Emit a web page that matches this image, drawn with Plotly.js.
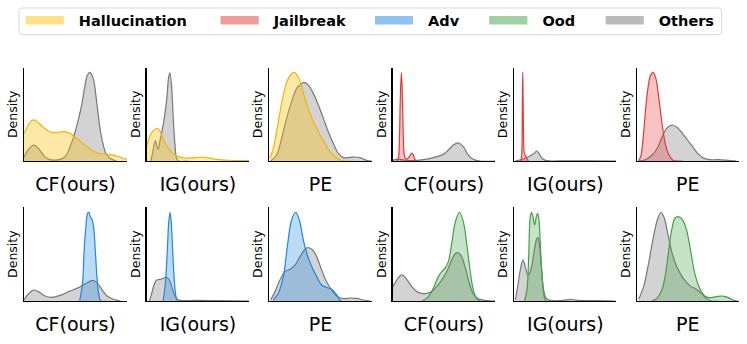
<!DOCTYPE html>
<html>
<head>
<meta charset="utf-8">
<script src="https://cdn.plot.ly/plotly-3.0.1.min.js"></script>
<style>html,body{margin:0;padding:0;background:#fff;}#chart{width:747px;height:344px;}</style>
</head>
<body>
<div id="chart"></div>
<script>
// ---------- categories / labels ----------
const categories = ['Hallucination', 'Jailbreak', 'Adv', 'Ood', 'Others'];
const methods = ['CF(ours)', 'IG(ours)', 'PE'];
const panelCategory = ['Hallucination','Hallucination','Hallucination','Jailbreak','Jailbreak','Jailbreak',
                       'Adv','Adv','Adv','Ood','Ood','Ood'];
const yLabel = 'Density';

// ---------- density curves (x: position along panel, y: scaled density) ----------
// Panel 1: Hallucination, CF(ours)
const p1_cat_x = [0, .03, .06, .097, .14, .2, .25, .32, .38, .447, .51, .56, .61, .66, .705, .75, .80, .85, .90, .95, 1.0];
const p1_cat_y = [.297, .36, .42, .44, .41, .35, .314, .305, .314, .297, .243, .2, .153, .115, .089, .078, .071, .066, .054, .035, .018];
const p1_oth_x = [0, .04, .097, .15, .2, .25, .30, .36, .41, .447, .48, .51, .54, .56, .592, .615, .64, .672, .705, .738, .77, .80, .85, .90];
const p1_oth_y = [.04, .12, .171, .12, .05, .015, .01, .02, .06, .153, .25, .368, .5, .6, .81, .92, .95, .886, .636, .35, .17, .07, .02, 0];
// Panel 2: Hallucination, IG(ours)
const p2_cat_x = [0, .032, .065, .103, .136, .168, .21, .258, .307, .372, .45, .52, .57, .62, .68, .8, 1.0];
const p2_cat_y = [.163, .271, .325, .35, .307, .217, .138, .079, .047, .032, .034, .04, .038, .03, .018, .008, .004];
const p2_oth_x = [.04, .06, .075, .087, .1, .113, .13, .146, .168, .194, .214, .226, .243, .258, .275, .291, .31, .4];
const p2_oth_y = [0, .1, .19, .217, .16, .126, .22, .307, .433, .65, .9, .946, .795, .47, .181, .03, 0, 0];
// Panel 3: Hallucination, PE
const p3_cat_x = [.007, .039, .088, .137, .186, .241, .283, .316, .349, .397, .446, .495, .544, .593, .642, .691, .723, .8];
const p3_cat_y = [.029, .136, .42, .707, .886, .95, .9, .796, .67, .51, .386, .279, .19, .1, .046, .011, 0, 0];
const p3_oth_x = [.013, .072, .12, .169, .218, .267, .306, .339, .381, .43, .479, .528, .576, .625, .674, .723, .788, .837, .886, .951, 1.0];
const p3_oth_y = [0, .064, .243, .457, .636, .779, .82, .843, .814, .725, .6, .457, .314, .19, .082, .036, .039, .043, .036, .007, 0];
// Panel 4: Jailbreak, CF(ours)
const p4_cat_x = [.04, .055, .066, .074, .085, .096, .104, .114, .125, .137, .15, .163, .176, .189, .202, .215, .228, .241];
const p4_cat_y = [0, .03, .25, .65, .95, .65, .25, .06, .025, .021, .03, .046, .07, .086, .065, .02, .005, 0];
const p4_oth_x = [0, .055, .088, .137, .2, .3, .397, .495, .544, .593, .642, .69, .739, .788, .853, 1.0];
const p4_oth_y = [.007, .021, .014, .007, .004, .014, .036, .071, .118, .171, .193, .154, .064, .018, 0, 0];
// Panel 5: Jailbreak, IG(ours)
const p5_cat_x = [.066, .074, .079, .083, .087, .092, .097, .102, .111, .124, .14];
const p5_cat_y = [0, .1, .6, .95, .6, .2, .09, .075, .055, .021, 0];
const p5_oth_x = [.01, .042, .108, .157, .196, .222, .248, .271, .304, .353, .5, .7, 1.0];
const p5_oth_y = [0, .007, .029, .057, .082, .107, .071, .029, .007, 0, .002, .002, 0];
// Panel 6: Jailbreak, PE
const p6_cat_x = [.017, .04, .066, .099, .132, .159, .185, .215, .248, .281, .315, .348, .381, .45];
const p6_cat_y = [0, .064, .314, .707, .914, .95, .886, .671, .386, .171, .064, .014, 0, 0];
const p6_oth_x = [.017, .083, .149, .199, .248, .298, .348, .397, .447, .497, .546, .596, .646, .712, .795, .894, .977];
const p6_oth_y = [0, .014, .064, .136, .261, .357, .386, .357, .296, .225, .154, .082, .036, .014, .014, .007, 0];
// Panel 7: Adv, CF(ours)
const p7_cat_x = [.54, .568, .584, .601, .617, .63, .643, .659, .675, .692, .708, .724, .747, .8];
const p7_cat_y = [0, .189, .544, .794, .936, .947, .9, .872, .794, .544, .26, .082, 0, 0];
const p7_oth_x = [0, .042, .091, .14, .205, .269, .351, .432, .513, .578, .627, .669, .708, .756, .805, .87, .935];
const p7_oth_y = [.011, .075, .117, .1, .053, .039, .06, .1, .135, .174, .203, .221, .196, .125, .053, .018, 0];
// Panel 8: Adv, IG(ours)
const p8_cat_x = [.16, .182, .201, .214, .227, .24, .253, .269, .286, .302, .35];
const p8_cat_y = [0, .189, .544, .829, .947, .829, .544, .224, .046, 0, 0];
const p8_oth_x = [.026, .049, .071, .097, .13, .162, .195, .221, .244, .266, .292, .325, .42, .519, .682, 1.0];
const p8_oth_y = [0, .082, .171, .224, .231, .242, .253, .224, .153, .075, .025, .007, .005, .007, .004, 0];
// Panel 9: Adv, PE
const p9_cat_x = [.039, .088, .137, .176, .218, .257, .293, .332, .371, .414, .463, .511, .567, .609, .651, .684, .707];
const p9_cat_y = [.011, .082, .26, .58, .865, .947, .865, .651, .491, .367, .26, .171, .142, .125, .075, .018, 0];
const p9_oth_x = [.013, .055, .104, .153, .202, .251, .3, .349, .381, .423, .463, .511, .56, .609, .658, .723, .788, .853, .919, .984];
const p9_oth_y = [.011, .1, .224, .313, .338, .384, .473, .552, .569, .544, .473, .331, .206, .117, .053, .025, .032, .028, .011, 0];
// Panel 10: Ood, CF(ours)
const p10_cat_x = [.29, .349, .397, .446, .479, .511, .544, .577, .609, .651, .69, .723, .756, .788, .821, .853];
const p10_cat_y = [0, .046, .135, .26, .313, .349, .42, .616, .829, .947, .847, .616, .331, .117, .028, 0];
const p10_oth_x = [0, .039, .088, .137, .186, .235, .283, .332, .381, .43, .479, .528, .577, .609, .632, .664, .707, .749, .788, .837, .902, 1.0];
const p10_oth_y = [.153, .224, .278, .231, .153, .1, .082, .082, .1, .153, .224, .313, .438, .502, .516, .491, .367, .189, .075, .025, .007, 0];
// Panel 11: Ood, IG(ours)
const p11_cat_x = [.1, .124, .141, .157, .17, .183, .199, .216, .229, .242, .261, .281, .297, .314, .36];
const p11_cat_y = [0, .117, .473, .9, .947, .9, .811, .9, .936, .865, .473, .153, .028, 0, 0];
const p11_oth_x = [.01, .033, .059, .085, .108, .131, .15, .173, .196, .216, .229, .245, .265, .288, .314, .353, .484, .549, .614, .81, .99];
const p11_oth_y = [.011, .153, .331, .438, .367, .278, .295, .384, .544, .651, .68, .616, .367, .117, .028, .007, .007, .018, .007, .004, 0];
// Panel 12: Ood, PE
const p12_cat_x = [.146, .195, .244, .276, .308, .341, .373, .406, .448, .487, .526, .568, .617, .666, .714, .779, .844, .893, .942, .99];
const p12_cat_y = [0, .028, .117, .26, .509, .758, .883, .9, .865, .758, .544, .295, .135, .053, .036, .046, .053, .039, .011, 0];
const p12_oth_x = [.016, .065, .114, .162, .205, .237, .269, .302, .341, .39, .455, .519, .584, .633, .682, .731, .8];
const p12_oth_y = [.018, .153, .402, .687, .883, .947, .883, .722, .527, .367, .242, .164, .125, .082, .028, 0, 0];

const catX = [p1_cat_x,p2_cat_x,p3_cat_x,p4_cat_x,p5_cat_x,p6_cat_x,p7_cat_x,p8_cat_x,p9_cat_x,p10_cat_x,p11_cat_x,p12_cat_x];
const catY = [p1_cat_y,p2_cat_y,p3_cat_y,p4_cat_y,p5_cat_y,p6_cat_y,p7_cat_y,p8_cat_y,p9_cat_y,p10_cat_y,p11_cat_y,p12_cat_y];
const othX = [p1_oth_x,p2_oth_x,p3_oth_x,p4_oth_x,p5_oth_x,p6_oth_x,p7_oth_x,p8_oth_x,p9_oth_x,p10_oth_x,p11_oth_x,p12_oth_x];
const othY = [p1_oth_y,p2_oth_y,p3_oth_y,p4_oth_y,p5_oth_y,p6_oth_y,p7_oth_y,p8_oth_y,p9_oth_y,p10_oth_y,p11_oth_y,p12_oth_y];

// ---------- styles ----------
const lineColor = {Hallucination:'#F5B400', Jailbreak:'#E53935', Adv:'#1E88E5', Ood:'#43A047', Others:'#787878'};
const fillColor = {Hallucination:'rgba(255,193,7,0.35)', Jailbreak:'rgba(229,57,53,0.3)', Adv:'rgba(30,136,229,0.3)',
                   Ood:'rgba(67,160,71,0.3)', Others:'rgba(120,120,120,0.33)'};
const legendColor = {Hallucination:'#FFE083', Jailbreak:'#F29C9A', Adv:'#8FC4F2', Ood:'#A1D0A3', Others:'#BBBBBB'};

const W = 747, H = 344;
const colPx = [[24,127],[146.7,249.3],[269.3,371.7],[392.7,495],[514.3,616.3],[637,738.7]];
const rowPx = [[67.7,161],[207.3,301]];
const legendPatchPx = [25.7, 220.6, 375, 489.3, 605.7];
const legendBox = {x0: 19, x1: 721.5, y0: 8, y1: 34.7, r: 3};

const traces = [];
const layout = {
  width: W, height: H,
  margin: {l:0, r:0, t:0, b:0},
  paper_bgcolor: 'white', plot_bgcolor: 'white',
  font: {family: 'DejaVu Sans', color: 'black'},
  showlegend: true,
  shapes: []
};

for (let i = 0; i < 12; i++) {
  const n = i + 1;
  const sfx = n === 1 ? '' : String(n);
  const row = i < 6 ? 0 : 1;
  const col = i % 6;
  const cat = panelCategory[i];
  const xa = 'x' + sfx, ya = 'y' + sfx;
  traces.push({
    type: 'scatter', mode: 'lines', x: othX[i], y: othY[i], xaxis: xa, yaxis: ya,
    fill: 'tozeroy', fillcolor: fillColor.Others,
    line: {color: lineColor.Others, width: 1.2, shape: 'spline', smoothing: 1},
    showlegend: false, hoverinfo: 'skip', name: 'Others'
  });
  traces.push({
    type: 'scatter', mode: 'lines', x: catX[i], y: catY[i], xaxis: xa, yaxis: ya,
    fill: 'tozeroy', fillcolor: fillColor[cat],
    line: {color: lineColor[cat], width: 1.2, shape: 'spline', smoothing: 1},
    showlegend: false, hoverinfo: 'skip', name: cat
  });
  const dx = [colPx[col][0] / W, colPx[col][1] / W];
  const dy = [1 - rowPx[row][1] / H, 1 - rowPx[row][0] / H];
  layout['xaxis' + sfx] = {
    domain: dx, range: [0, 1], anchor: ya, fixedrange: true,
    showline: true, linecolor: 'black', linewidth: 1.3, mirror: false,
    showticklabels: false, ticks: '', showgrid: false, zeroline: false,
    title: {text: methods[col % 3], font: {family: 'DejaVu Sans', size: 19, color: 'black'}, standoff: 16}
  };
  layout['yaxis' + sfx] = {
    domain: dy, range: [0, 1], anchor: xa, fixedrange: true,
    showline: true, linecolor: 'black', linewidth: 1.3, mirror: false,
    showticklabels: false, ticks: '', showgrid: false, zeroline: false,
    title: {text: yLabel, font: {family: 'DejaVu Sans', size: 12.5, color: 'black'}, standoff: 2}
  };
}

// legend frame (rounded box)
{
  const b = legendBox, rx = b.r / W, ry = b.r / H;
  const x0 = b.x0 / W, x1 = b.x1 / W, yt = 1 - b.y0 / H, yb = 1 - b.y1 / H;
  layout.shapes.push({
    type: 'path', xref: 'paper', yref: 'paper', layer: 'above',
    path: `M${x0+rx},${yt} L${x1-rx},${yt} Q${x1},${yt} ${x1},${yt-ry} L${x1},${yb+ry} Q${x1},${yb} ${x1-rx},${yb} ` +
          `L${x0+rx},${yb} Q${x0},${yb} ${x0},${yb+ry} L${x0},${yt-ry} Q${x0},${yt} ${x0+rx},${yt} Z`,
    line: {color: '#d9d9d9', width: 1}, fillcolor: 'white'
  });
}

// legend entries: one legend per category so each entry sits where the reference has it
categories.forEach((c, k) => {
  const key = k === 0 ? 'legend' : 'legend' + (k + 1);
  layout[key] = {
    orientation: 'h', x: (legendPatchPx[k] - 5) / W, xanchor: 'left', y: 1 - 4.5 / H, yanchor: 'top',
    borderwidth: 0, bgcolor: 'rgba(0,0,0,0)',
    font: {family: 'DejaVu Sans', size: 14.5, weight: 'bold', color: 'black'},
    itemwidth: 38
  };
  traces.push({
    type: 'scatter', mode: 'lines', x: [null], y: [null], xaxis: 'x', yaxis: 'y',
    fill: 'tozeroy', fillcolor: legendColor[c],
    line: {color: legendColor[c], width: 5},
    name: '\u00a0\u00a0' + c, legend: key, showlegend: true, hoverinfo: 'skip'
  });
});

Plotly.newPlot('chart', traces, layout, {staticPlot: true, displayModeBar: false});
</script>
</body>
</html>
